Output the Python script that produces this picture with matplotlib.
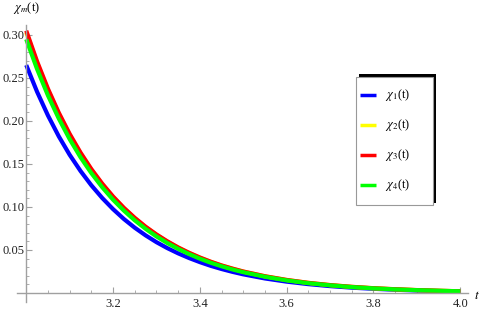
import numpy as np
import matplotlib.pyplot as plt
from matplotlib.patches import Rectangle

plt.rcParams['mathtext.fontset'] = 'stix'
plt.rcParams['font.family'] = ['Liberation Serif', 'DejaVu Serif']

# time samples (denser near t = 3 where curves bend most)
t = [3.000, 3.025, 3.050, 3.075, 3.100, 3.125, 3.150, 3.175, 3.200, 3.225,
     3.250, 3.275, 3.300, 3.325, 3.350, 3.375, 3.400, 3.425, 3.450, 3.475,
     3.500, 3.550, 3.600, 3.650, 3.700, 3.750, 3.800, 3.850, 3.900, 3.950, 4.000]

chi1 = [.2650, .2339, .2064, .1821, .1607, .1419, .1252, .1105, .0975, .0860,
        .0759, .0670, .0591, .0522, .0461, .0407, .0359, .0316, .0279, .0246,
        .0217, .0169, .0132, .0103, .0080, .0062, .0049, .0038, .0029, .0023, .0018]
chi2 = [.3030, .2674, .2360, .2083, .1838, .1622, .1431, .1263, .1115, .0984,
        .0868, .0766, .0676, .0597, .0527, .0465, .0410, .0362, .0319, .0282,
        .0249, .0194, .0151, .0118, .0092, .0071, .0055, .0043, .0034, .0026, .0020]
chi3 = [.3050, .2692, .2375, .2096, .1850, .1633, .1441, .1272, .1122, .0990,
        .0874, .0771, .0681, .0601, .0530, .0468, .0413, .0364, .0321, .0284,
        .0250, .0195, .0152, .0118, .0092, .0072, .0056, .0044, .0034, .0026, .0020]
chi4 = [.2950, .2603, .2297, .2028, .1789, .1579, .1394, .1230, .1085, .0958,
        .0845, .0746, .0658, .0581, .0513, .0453, .0399, .0352, .0311, .0274,
        .0242, .0189, .0147, .0114, .0089, .0069, .0054, .0042, .0033, .0026, .0020]

series = [chi1, chi2, chi3, chi4]
names = [r'$\chi_1$(t)', r'$\chi_2$(t)', r'$\chi_3$(t)', r'$\chi_4$(t)']
colors = ['#0000ff', '#ffff00', '#ff0000', '#00ff00']

xticks = [3.2, 3.4, 3.6, 3.8, 4.0]
yticks = [0.05, 0.10, 0.15, 0.20, 0.25, 0.30]

W, H = 484, 309
fig = plt.figure(figsize=(W / 100, H / 100), dpi=100)
ax = fig.add_axes([17 / W, 7.4 / H, 451 / W, 276.6 / H])

for y, c in zip(series, colors):
    ax.plot(t, y, color=c, lw=3, solid_capstyle='butt', clip_on=False)

ax.set_xlim(2.9787, 4.0178)
ax.set_ylim(-0.0100, 0.3116)

axis_gray = '#a0a0a0'
for side in ['top', 'right']:
    ax.spines[side].set_visible(False)
ax.spines['left'].set_position(('data', 3.0))
ax.spines['bottom'].set_position(('data', 0.0))
for side in ['left', 'bottom']:
    ax.spines[side].set_color(axis_gray)
    ax.spines[side].set_linewidth(1.0)

ax.set_xticks(xticks)
ax.set_xticklabels(['%.1f' % v for v in xticks])
ax.set_yticks(yticks)
ax.set_yticklabels(['%.2f' % v for v in yticks])
ax.set_xticks([3.05, 3.10, 3.15, 3.25, 3.30, 3.35, 3.45, 3.50, 3.55,
               3.65, 3.70, 3.75, 3.85, 3.90, 3.95], minor=True)
ax.set_yticks([v / 100 for v in range(1, 31) if v % 5], minor=True)
ax.tick_params(which='major', direction='in', length=4, width=0.8,
               color=axis_gray, labelsize=9, labelcolor='#222222')
ax.tick_params(which='minor', direction='in', length=2.2, width=0.6,
               color=axis_gray)
ax.tick_params(axis='x', pad=3.5)
ax.tick_params(axis='y', pad=1.5)
ax.patch.set_visible(False)

fig.text(27 / W, 1 - 8 / H, r'$\chi_m$(t)', fontsize=9, ha='center', va='center')
fig.text(477 / W, 1 - 296 / H, r'$t$', fontsize=9.5, ha='center', va='center')

# legend box with offset shadow
lw_, lh_ = 76.7, 128.3
lax = fig.add_axes([356 / W, (H - 205) / H, lw_ / W, lh_ / H])
lax.set_xlim(0, lw_)
lax.set_ylim(lh_, 0)
lax.axis('off')
lax.add_patch(Rectangle((3, -2.5), lw_, lh_, facecolor='black',
                        edgecolor='none', clip_on=False))
lax.add_patch(Rectangle((0, 0), lw_, lh_, facecolor='white',
                        edgecolor='#999999', lw=0.8, clip_on=False))
for i, (name, c) in enumerate(zip(names, colors)):
    yy = 18.3 + 30 * i
    lax.plot([4, 20], [yy, yy], color=c, lw=2.5, solid_capstyle='butt')
    lax.text(29, yy, name, fontsize=9, ha='left', va='center')

fig.savefig('out.png', dpi=100)
